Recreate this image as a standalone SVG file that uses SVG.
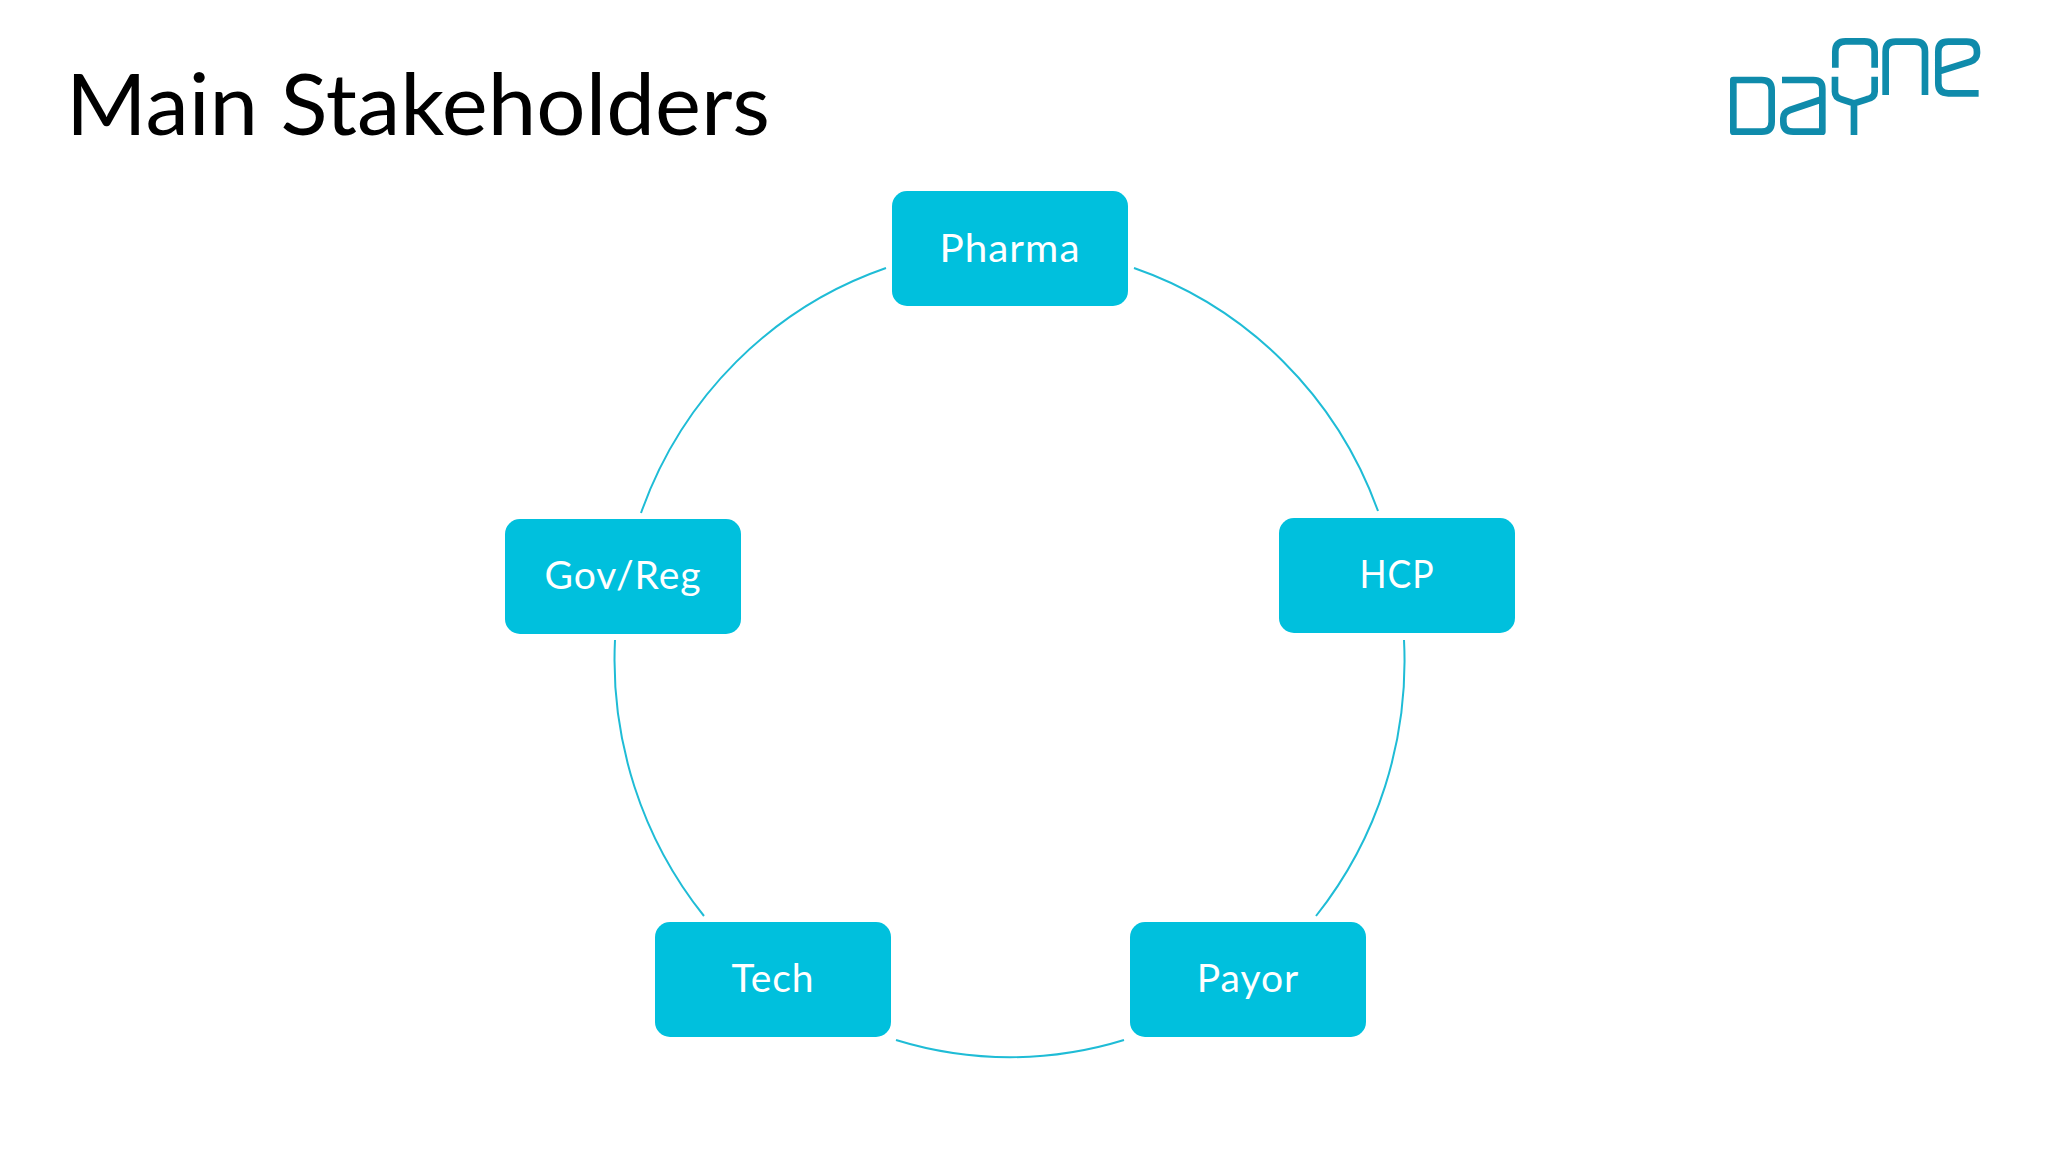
<svg xmlns="http://www.w3.org/2000/svg" width="2048" height="1152" viewBox="0 0 2048 1152">
<style>
.box{fill:#00c0dd}
.lbl{font-family:"Lato","Open Sans",sans-serif;font-size:39px;fill:#fff;text-anchor:middle;letter-spacing:1px}
.arc{fill:none;stroke:#1fbcd6;stroke-width:2}
.logo{fill:none;stroke:#0f8bab;stroke-width:20;stroke-linejoin:round}
</style>
<rect width="2048" height="1152" fill="#fff"/>
<text id="title" x="66" y="135" font-family="Lato,'Open Sans',sans-serif" font-size="85" fill="#000" textLength="704" lengthAdjust="spacingAndGlyphs">Main Stakeholders</text>
<g id="logo" class="logo" transform="translate(1700 20) scale(.3333)">
<path d="M100 180H185Q215 180 215 210V305Q215 335 185 335H100Z"/>
<path d="M246 180H340Q367 180 367 207V335H280Q250 335 250 305V295Q250 277 270 270L368 237"/>
<path d="M406 143V95Q406 64 437 64H493Q524 64 524 95V143"/>
<path d="M405 170V215Q405 232 425 238L462 250L500 238Q524 232 524 215V170M462 250V345"/>
<path d="M557 225V95Q557 65 587 65H645Q675 65 675 95V225"/>
<path d="M836 220H745Q715 220 715 190V95Q715 65 745 65H800Q831 65 831 95V100Q831 118 811 125L715 155"/>
</g>
<g id="connectors">
<path class="arc" d="M1134 268A395 404 0 0 1 1378 511"/>
<path class="arc" d="M1404 640A395 404 0 0 1 1316 916"/>
<path class="arc" d="M1124 1040A395 404 0 0 1 896 1040"/>
<path class="arc" d="M704 916A395 404 0 0 1 615 640"/>
<path class="arc" d="M641 513A395 404 0 0 1 886 268"/>
</g>
<g id="pharma"><rect class="box" x="892" y="191" width="236" height="115" rx="15"/><text class="lbl" x="1010" y="262" textLength="141" lengthAdjust="spacingAndGlyphs">Pharma</text></g>
<g id="hcp"><rect class="box" x="1279" y="518" width="236" height="115" rx="15"/><text class="lbl" x="1397" y="588" textLength="75" lengthAdjust="spacingAndGlyphs">HCP</text></g>
<g id="payor"><rect class="box" x="1130" y="922" width="236" height="115" rx="15"/><text class="lbl" x="1248" y="992">Payor</text></g>
<g id="tech"><rect class="box" x="655" y="922" width="236" height="115" rx="15"/><text class="lbl" x="773" y="992">Tech</text></g>
<g id="govreg"><rect class="box" x="505" y="519" width="236" height="115" rx="15"/><text class="lbl" x="623" y="589">Gov/Reg</text></g>
</svg>
